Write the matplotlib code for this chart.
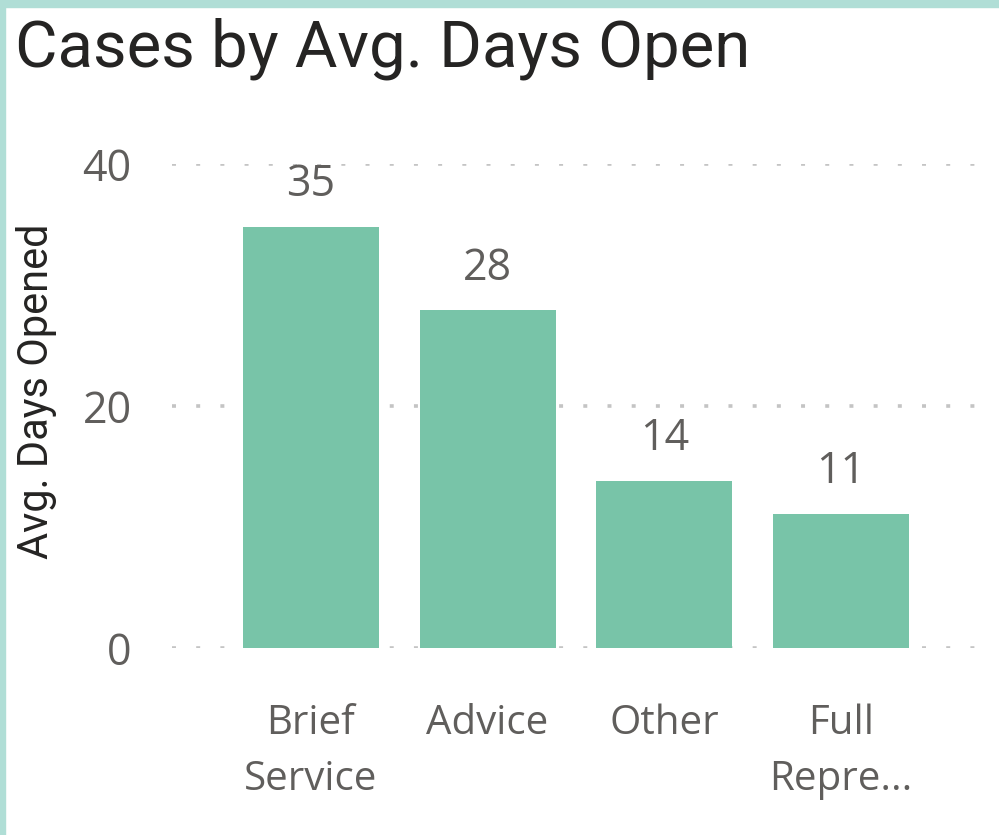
import matplotlib
matplotlib.use("Agg")
import matplotlib.pyplot as plt
from matplotlib.patches import Rectangle

# values
categories = ["Brief\nService", "Advice", "Other", "Full\nRepre..."]
avg_days = [34.8, 27.9, 13.8, 11.1]
yticks = [0, 20, 40]

bar_color = "#78C4A8"
text_gray = "#605E5C"
dark = "#252423"
border = "#B0DED6"

W, H = 999, 835
fig = plt.figure(figsize=(W / 100, H / 100), dpi=100)
fig.patch.set_facecolor("white")

# axes placed in pixels
left, right, bottom, top = 172, 975, 648, 164
ax = fig.add_axes([left / W, (H - bottom) / H, (right - left) / W, (bottom - top) / H])

x = list(range(len(categories)))
bars = ax.bar(x, avg_days, width=0.77, color=bar_color, zorder=2)

ax.set_xlim(-0.785, 3.757)
ax.set_ylim(0, 40)
ax.set_yticks(yticks)
ax.set_xticks(x)
ax.set_xticklabels(categories, fontfamily="Open Sans", fontsize=29,
                   color=text_gray, linespacing=1.5)
ax.set_yticklabels([str(t) for t in yticks], fontfamily="Open Sans",
                   fontsize=31, color=text_gray)
ax.tick_params(axis="both", length=0)
ax.tick_params(axis="y", pad=29)
ax.tick_params(axis="x", pad=40)
for s in ax.spines.values():
    s.set_visible(False)

ax.grid(axis="y", color="#C4C4C4", linewidth=2.6, linestyle=(0, (1.1, 5.6)),
        dash_capstyle="butt")
ax.set_axisbelow(True)

for b, v in zip(bars, avg_days):
    ax.annotate("%.0f" % v, (b.get_x() + b.get_width() / 2, v),
                xytext=(0, 22), textcoords="offset points",
                ha="center", va="baseline", fontfamily="Open Sans",
                fontsize=31, color=text_gray, clip_on=False)

fig.text(15 / W, (H - 67) / H, "Cases by Avg. Days Open",
         fontfamily="Roboto", fontsize=47, color=dark,
         ha="left", va="baseline")

fig.text(37 / W, (H - 391) / H, "Avg. Days Opened", rotation=90,
         fontfamily="Roboto", fontsize=30, color=dark,
         ha="center", va="center")

# teal frame on the top and left edge
fig.patches.append(Rectangle((0, 0), 5 / W, 1, transform=fig.transFigure,
                             color=border, zorder=0))
fig.patches.append(Rectangle((0, 1 - 7 / H), 1, 7 / H, transform=fig.transFigure,
                             color=border, zorder=0))

fig.savefig("out.png", dpi=100)
